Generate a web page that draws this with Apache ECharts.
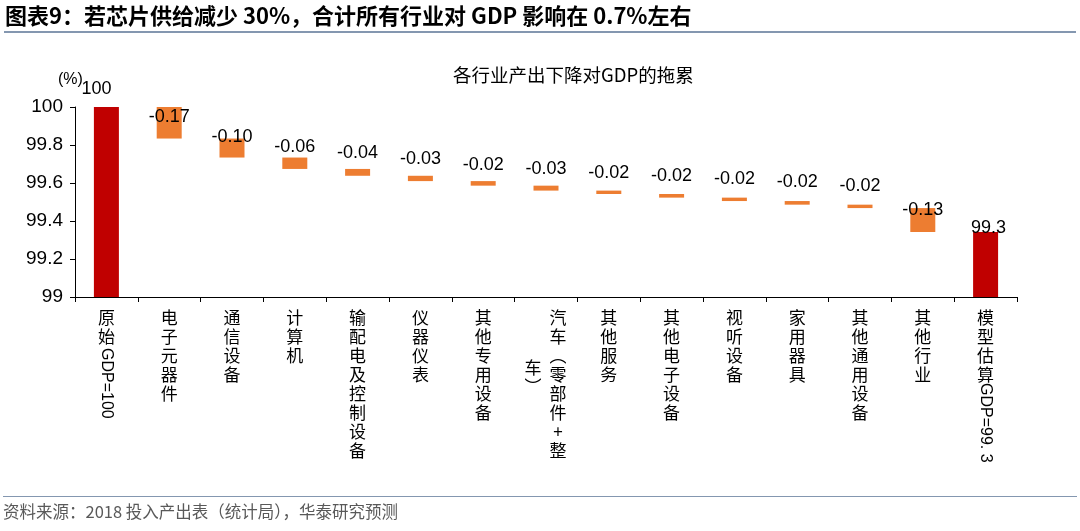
<!DOCTYPE html>
<html>
<head>
<meta charset="utf-8">
<script src="https://cdn.jsdelivr.net/npm/echarts@6/dist/echarts.min.js"></script>
<style>
html,body{margin:0;padding:0;background:#fff;}
#chart{width:1080px;height:531px;}
</style>
</head>
<body>
<div id="chart"></div>
<script>
// ---- data ----
const categories = ['原始GDP=100','电子元器件','通信设备','计算机','输配电及控制设备','仪器仪表','其他专用设备','汽车（零部件+整车）','其他服务','其他电子设备','视听设备','家用器具','其他通用设备','其他行业','模型估算GDP=99. 3'];
const startValue = 100;
const drops = [0.166, 0.100, 0.060, 0.036, 0.028, 0.024, 0.026, 0.018, 0.019, 0.018, 0.019, 0.018, 0.126];
const yMin = 99, yMax = 100, yStep = 0.2;
const titleText = '图表9：若芯片供给减少 30%，合计所有行业对 GDP 影响在 0.7%左右';
const chartTitle = '各行业产出下降对GDP的拖累';
const unitText = '(%)';
const sourceText = '资料来源：2018 投入产出表（统计局），华泰研究预测';

// ---- derived ----
const totals = [];
let run = startValue;
drops.forEach(d => { run -= d; totals.push(run); });
const finalValue = run;
const baseData = [0].concat(totals).concat([0]);
const valueData = [startValue].concat(drops).concat([finalValue]);

const RED = '#C00000', ORANGE = '#ED7D31';
const CJK = '"Noto Sans CJK SC", sans-serif';
const LAT = '"Liberation Sans", Arial, sans-serif';
// label placement tweaks (style)
const labelOffsets = [[-10,-9],[0,19],[0,7],[0,-2],[0,-7],[0,-8],[0,-7],[0,-8],[0,-9],[0,-9],[0,-10],[0,-10],[0,-10],[0,11],[3,5]];

const MAXCOL = 8;
function vert(s){ return s.replace(/（/g,'︵').replace(/）/g,'︶').split('').join('\n'); }
function cjkPart(v){ const i = v.indexOf('GDP'); return i >= 0 ? v.slice(0,i) : v; }
function latPart(v){ const i = v.indexOf('GDP'); return i >= 0 ? v.slice(i) : ''; }

const chart = echarts.init(document.getElementById('chart'));
const option = {
  animation: false,
  backgroundColor: '#fff',
  grid: {left: 75, right: 63, top: 107, bottom: 234, containLabel: false},
  xAxis: [
    {
      type: 'category', data: categories, position: 'bottom',
      axisLine: {lineStyle: {color: '#000', width: 1}},
      axisTick: {show: true, length: 5, lineStyle: {color: '#000'}},
      axisLabel: {
        interval: 0, margin: 11, color: '#000',
        formatter: function(v){
          const c = cjkPart(v);
          if (c.length > MAXCOL) return '{vr|' + vert(c.slice(0, MAXCOL)) + '}';
          return '{v|' + vert(c) + '}';
        },
        rich: {
          v: {fontSize: 17, lineHeight: 19, fontFamily: CJK, color: '#000'},
          vr: {fontSize: 17, lineHeight: 19, fontFamily: CJK, color: '#000', padding: [0,0,0,24]}
        }
      }
    },
    {
      type: 'category', data: categories, position: 'bottom',
      axisLine: {show: false}, axisTick: {show: false},
      axisLabel: {
        interval: 0, rotate: -90, margin: 51, color: '#000',
        formatter: function(v, i){
          const l = latPart(v);
          if (!l) return '';
          return (cjkPart(v).length > 2 ? '{b|' : '{a|') + l + '}';
        },
        rich: {
          a: {fontSize: 16, fontFamily: LAT, color: '#000'},
          b: {fontSize: 16, fontFamily: LAT, color: '#000', padding: [0,0,0,35]}
        }
      }
    },
    {
      type: 'category', data: categories, position: 'bottom',
      axisLine: {show: false}, axisTick: {show: false},
      axisLabel: {
        interval: 0, margin: 61, color: '#000',
        formatter: function(v){
          const c = cjkPart(v);
          if (c.length <= MAXCOL) return '';
          return '{l|' + vert(c.slice(MAXCOL)) + '}';
        },
        rich: {
          l: {fontSize: 17, lineHeight: 19, fontFamily: CJK, color: '#000', padding: [0,26,0,0]}
        }
      }
    }
  ],
  yAxis: {
    type: 'value', min: yMin, max: yMax, interval: yStep,
    axisLine: {show: true, lineStyle: {color: '#000', width: 1}},
    axisTick: {show: true, length: 5, lineStyle: {color: '#000'}},
    splitLine: {show: false},
    axisLabel: {
      margin: 12, fontSize: 19, fontFamily: LAT, color: '#000',
      formatter: v => String(Number(v.toFixed(1)))
    }
  },
  series: [
    {
      type: 'bar', stack: 'w', xAxisIndex: 0, barWidth: 25,
      itemStyle: {color: 'rgba(0,0,0,0)'},
      emphasis: {disabled: true}, silent: true,
      data: baseData
    },
    {
      type: 'bar', stack: 'w', xAxisIndex: 0, barWidth: 25,
      data: valueData.map((v, i) => ({
        value: v,
        itemStyle: {color: (i === 0 || i === valueData.length - 1) ? RED : ORANGE},
        label: {offset: labelOffsets[i]}
      })),
      label: {
        show: true, position: 'top', distance: 0,
        fontSize: 18, fontFamily: LAT, color: '#000',
        formatter: function(p){
          const i = p.dataIndex;
          if (i === 0) return String(startValue);
          if (i === valueData.length - 1) return finalValue.toFixed(1);
          return '-' + drops[i - 1].toFixed(2);
        }
      }
    }
  ],
  graphic: [
    {type: 'text', left: 5, top: 5, style: {text: titleText, font: 'bold 22px ' + CJK, fill: '#000'}},
    {type: 'rect', left: 4, top: 31, shape: {width: 1072, height: 2}, style: {fill: '#8497B0'}},
    {type: 'text', left: 453, top: 66, style: {text: chartTitle, font: '18.5px ' + CJK, fill: '#000'}},
    {type: 'text', left: 58, top: 72, style: {text: unitText, font: '16px ' + LAT, fill: '#000'}},
    {type: 'rect', left: 3, top: 496, shape: {width: 1074, height: 1}, style: {fill: '#8497B0'}},
    {type: 'text', left: 3, top: 503, style: {text: sourceText, font: '16.5px ' + CJK, fill: '#595959'}}
  ]
};
chart.setOption(option);
</script>
</body>
</html>
